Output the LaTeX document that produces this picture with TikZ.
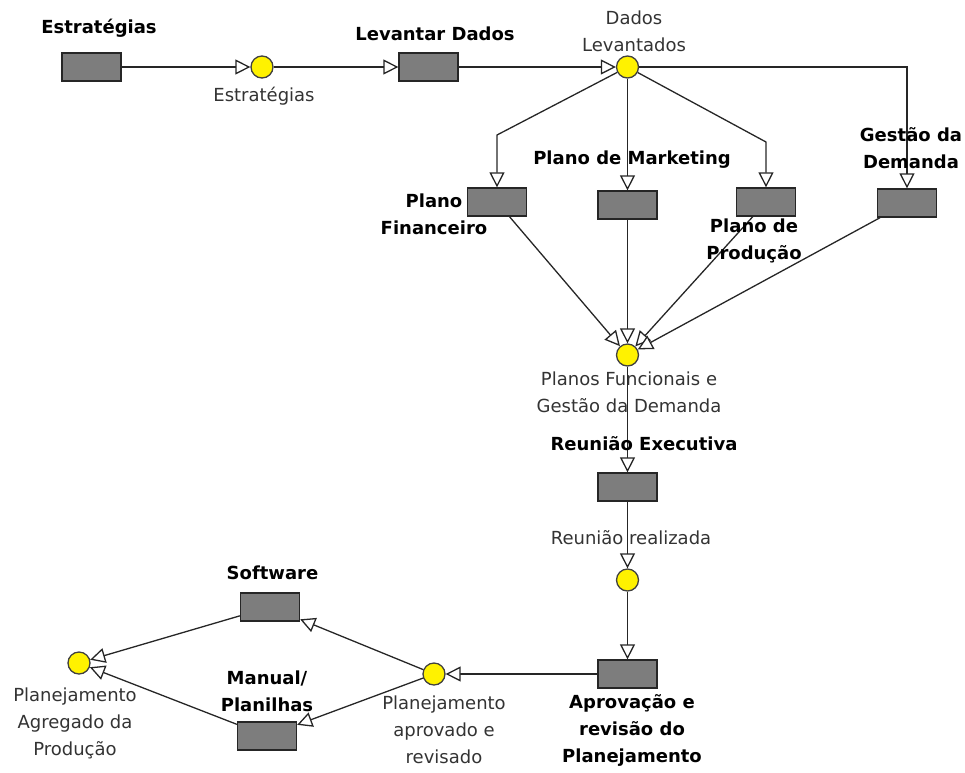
\documentclass[tikz,border=0pt]{standalone}
\usepackage{fontspec}
\setmainfont{DejaVu Sans}
\usetikzlibrary{arrows.meta}
\definecolor{tgray}{HTML}{7D7D7D}
\definecolor{txtgray}{HTML}{333333}
\newcommand\lblsize{\fontsize{18}{27}\selectfont}
\begin{document}
\begin{tikzpicture}[x=1pt,y=-1pt,
  trans/.style={draw=black!85, fill=tgray, minimum width=59pt, minimum height=28pt, inner sep=0pt, line width=1.3pt},
  place/.style={circle, draw=black!75, fill=yellow, minimum size=22pt, inner sep=0pt, line width=1.3pt},
  lbl/.style={font=\lblsize, text=txtgray, align=center, inner sep=0pt},
  blbl/.style={font=\lblsize\bfseries, text=black, align=center, inner sep=0pt},
  arc/.style={draw=black!85, line width=1.3pt, -{Triangle[length=15pt,width=15pt,fill=white]}}]
\useasboundingbox (0,0) rectangle (965,772);

% transitions
\node[trans] (est) at (91.5,67) {};
\node[trans] (lev) at (428.5,67) {};
\node[trans] (fin) at (497,202) {};
\node[trans] (mkt) at (627.5,205) {};
\node[trans] (prod) at (766,202) {};
\node[trans] (gest) at (907,203) {};
\node[trans] (reu) at (627.5,487) {};
\node[trans] (apr) at (627.5,674) {};
\node[trans] (soft) at (270,607) {};
\node[trans] (man) at (267,736) {};

% places
\node[place] (p1) at (262,67) {};
\node[place] (p2) at (627.5,67) {};
\node[place] (p3) at (627.5,355) {};
\node[place] (p4) at (627.5,580) {};
\node[place] (p5) at (434,674) {};
\node[place] (p6) at (79,663) {};

% bend coordinates
\coordinate (bfin) at (497,135);
\coordinate (bprod) at (766,142);
\coordinate (bgest) at (907,67);

% arcs
\draw[arc] (est) -- (p1);
\draw[arc] (p1) -- (lev);
\draw[arc] (lev) -- (p2);
\draw[arc] (p2) -- (bgest) -- (gest.north);
\draw[arc] (p2) -- (bfin) -- (fin.north);
\draw[arc] (p2) -- (mkt);
\draw[arc] (p2) -- (bprod) -- (prod.north);
\draw[arc] (fin) -- (p3);
\draw[arc] (mkt) -- (p3);
\draw[arc] (prod) -- (p3);
\draw[arc] (gest) -- (p3);
\draw[arc] (p3) -- (reu);
\draw[arc] (reu) -- (p4);
\draw[arc] (p4) -- (apr);
\draw[arc] (apr) -- (p5);
\draw[arc] (p5) -- (soft);
\draw[arc] (p5) -- (man);
\draw[arc] (soft) -- (p6);
\draw[arc] (man) -- (p6);

% labels
\node[blbl] (lest) at (99,28) {Estratégias};
\node[lbl] (lp1) at (264,96) {Estratégias};
\node[blbl] (llev) at (435,34) {Levantar Dados};
\node[lbl] (lp2) at (634,31.5) {Dados\\Levantados};
\node[blbl] (lfin) at (434,214) {Plano\\Financeiro};
\node[blbl] (lmkt) at (632,160) {Plano de Marketing};
\node[blbl] (lprod) at (754,241) {Plano de\\Produção};
\node[blbl] (lgest) at (911,148) {Gestão da\\Demanda};
\node[lbl] (lp3) at (629,392) {Planos Funcionais e\\Gestão da Demanda};
\node[blbl] (lreu) at (644,444) {Reunião Executiva};
\node[lbl] (lp4) at (631,538) {Reunião realizada};
\node[blbl] (lapr) at (632,730) {Aprovação e\\revisão do\\Planejamento};
\node[lbl] (lp5) at (444,729.5) {Planejamento\\aprovado e\\revisado};
\node[blbl] (lsoft) at (272.5,573) {Software};
\node[blbl] (lman) at (267,691) {Manual/\\Planilhas};
\node[lbl] (lp6) at (75,723) {Planejamento\\Agregado da\\Produção};
\end{tikzpicture}
\end{document}
